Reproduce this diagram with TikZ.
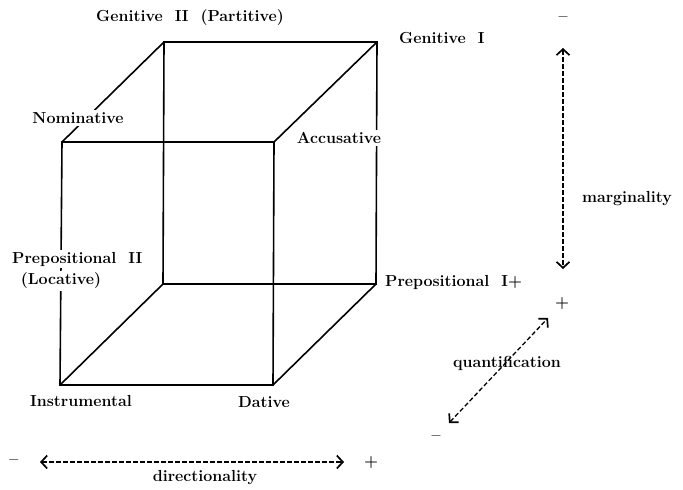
\documentclass[tikz,border=0pt]{standalone}
\usetikzlibrary{arrows.meta}
\begin{document}
\begin{tikzpicture}[x=1pt,y=-1pt,
  every node/.style={font=\fontsize{16}{19}\selectfont\bfseries, inner sep=1pt},
  edge/.style={line width=1.6pt, line join=miter},
  lab/.style={fill=white, inner sep=2pt},
  axis/.style={line width=1.3pt, dash pattern=on 4.5pt off 2.5pt,
    {Straight Barb[length=6pt,width=13pt,line width=1.7pt]}-{Straight Barb[length=6pt,width=13pt,line width=1.7pt]}},
  sign/.style={inner sep=0pt}]
\useasboundingbox (0,0) rectangle (683,490);
% cube corners
\coordinate (ftl) at (62,142);
\coordinate (ftr) at (274,142);
\coordinate (fbl) at (60,385);
\coordinate (fbr) at (273,385);
\coordinate (btl) at (164,42);
\coordinate (btr) at (377,42);
\coordinate (bbl) at (163,284);
\coordinate (bbr) at (376,284);
% edges
\draw[edge] (ftl) -- (ftr) -- (fbr) -- (fbl) -- cycle;
\draw[edge] (btl) -- (btr) -- (bbr) -- (bbl) -- cycle;
\draw[edge] (ftl) -- (btl);
\draw[edge] (ftr) -- (btr);
\draw[edge] (fbl) -- (bbl);
\draw[edge] (fbr) -- (bbr);
% labels
\node (gen2) at (190,18) {Genitive~~II~~(Partitive)};
\node[anchor=west] (gen1) at (398,38) {Genitive~~I};
\node[lab] (nom) at (78,118) {Nominative};
\node[lab] (acc) at (339,138) {Accusative};
\node[lab, anchor=west] (prep2) at (10,259) {Prepositional~~II};
\node[lab] (loc) at (61,281) {(Locative)};
\node[anchor=west] (prep1) at (384,282) {Prepositional~~I+};
\node (instr) at (81,401) {Instrumental};
\node (dat) at (264,402) {Dative};
% marginality axis
\node[sign] (mminus) at (563,19) {--};
\node[sign] (mplus) at (562,304) {+};
\coordinate (mtop) at (563,48);
\coordinate (mbot) at (563,269);
\draw[axis] (mtop) -- (mbot);
\node (marg) at (627,199) {marginality};
% quantification axis
\coordinate (qlow) at (449,423);
\coordinate (qhigh) at (548,318);
\draw[axis] (qlow) -- (qhigh);
\node[sign] (qminus) at (436,438) {--};
\node (quant) at (507,363) {quantification};
% directionality axis
\node[sign] (dminus) at (14,462) {--};
\node[sign] (dplus) at (371,463) {+};
\coordinate (dleft) at (40,462);
\coordinate (dright) at (344,462);
\draw[axis] (dleft) -- (dright);
\node (dir) at (205,478) {directionality};
\end{tikzpicture}
\end{document}
